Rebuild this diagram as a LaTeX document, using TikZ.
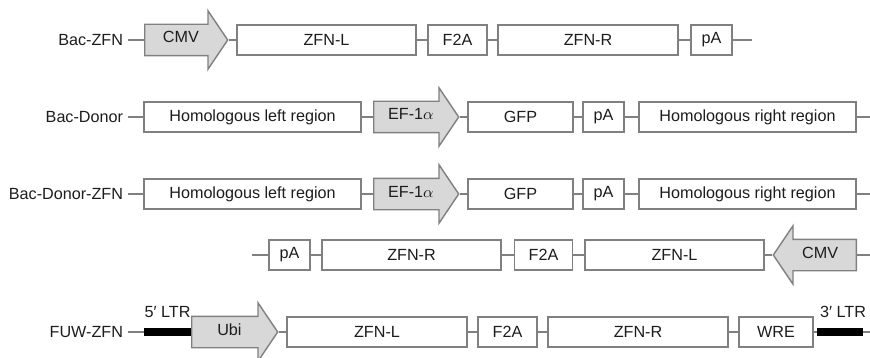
\documentclass[tikz,border=0pt]{standalone}
\usepackage{fontspec}
\setmainfont{Liberation Sans}
\usetikzlibrary{shapes.arrows}
\definecolor{linegrey}{RGB}{128,128,128}
\definecolor{promfill}{RGB}{216,216,216}
\definecolor{txtgrey}{RGB}{30,28,28}

\begin{document}
\begin{tikzpicture}[every node/.style={font=\fontsize{9.2}{11}\selectfont, text=txtgrey},
        partbox/.style={draw=linegrey, line width=0.8pt, fill=white, rectangle, minimum height=0.6cm, inner sep=0pt},
        prom/.style={draw=linegrey, line width=0.8pt, fill=promfill, single arrow, single arrow head extend=0.27cm,
            single arrow tip angle=112, text height=1.7mm, text depth=0.5mm, inner ysep=1.9mm, inner xsep=1mm,
            minimum width=0pt, anchor=tail},
        ltr/.style={fill=black, rectangle, minimum height=0.16cm, inner sep=0pt},
        vecname/.style={anchor=east, inner xsep=0pt, outer xsep=1mm},
        wire/.style={draw=linegrey, line width=0.75pt}]
                \useasboundingbox (0, 0) rectangle (17.4, -7.16);
                \clip (0, 0) rectangle (17.4, -7.16);

                % Bac-ZFN
                \node[vecname] at (2.56, -0.8) (bz) {Bac-ZFN};
                \node[prom, minimum height=1.66cm] at (2.88, -0.8) (cmv1) {CMV};
                \node[partbox, minimum width=3.58cm] at (6.53, -0.8) (zl1) {ZFN-L};
                \node[partbox, minimum width=1.18cm] at (9.15, -0.8) (fa1) {F2A};
                \node[partbox, minimum width=3.6cm] at (11.76, -0.8) (zr1) {ZFN-R};
                \node[partbox, minimum width=0.82cm] at (14.23, -0.8) (pa1) {pA};
                \coordinate (e1) at (15.04, -0.8);

                \draw[wire] (bz) -- (cmv1.tail);
                \draw[wire] (cmv1.tip) -- (zl1);
                \draw[wire] (zl1) -- (fa1);
                \draw[wire] (fa1) -- (zr1);
                \draw[wire] (zr1) -- (pa1);
                \draw[wire] (pa1) -- (e1);

                % Bac-Donor
                \node[vecname] at (2.56, -2.34) (bd) {Bac-Donor};
                \node[partbox, minimum width=4.34cm] at (5.05, -2.34) (hl2) {Homologous left region};
                \node[prom, minimum height=1.7cm] at (7.46, -2.34) (ef2) {EF-1$\alpha$};
                \node[partbox, minimum width=2.1cm] at (10.41, -2.34) (gfp2) {GFP};
                \node[partbox, minimum width=0.82cm] at (12.07, -2.34) (pa2) {pA};
                \node[partbox, minimum width=4.34cm] at (14.95, -2.34) (hr2) {Homologous right region};
                \coordinate (e2) at (17.4, -2.34);

                \draw[wire] (bd) -- (hl2);
                \draw[wire] (hl2) -- (ef2.tail);
                \draw[wire] (ef2.tip) -- (gfp2);
                \draw[wire] (gfp2) -- (pa2);
                \draw[wire] (pa2) -- (hr2);
                \draw[wire] (hr2) -- (e2);

                % Bac-Donor-ZFN
                \node[vecname] at (2.56, -3.88) (bdz) {Bac-Donor-ZFN};
                \node[partbox, minimum width=4.34cm] at (5.05, -3.88) (hl3) {Homologous left region};
                \node[prom, minimum height=1.7cm] at (7.46, -3.88) (ef3) {EF-1$\alpha$};
                \node[partbox, minimum width=2.1cm] at (10.41, -3.88) (gfp3) {GFP};
                \node[partbox, minimum width=0.82cm] at (12.07, -3.88) (pa3) {pA};
                \node[partbox, minimum width=4.34cm] at (14.95, -3.88) (hr3) {Homologous right region};
                \coordinate (e3) at (17.4, -3.88);

                \draw[wire] (bdz) -- (hl3);
                \draw[wire] (hl3) -- (ef3.tail);
                \draw[wire] (ef3.tip) -- (gfp3);
                \draw[wire] (gfp3) -- (pa3);
                \draw[wire] (pa3) -- (hr3);
                \draw[wire] (hr3) -- (e3);

                % reverse ZFN cassette
                \coordinate (s4) at (5.04, -5.1);
                \node[partbox, minimum width=0.82cm] at (5.79, -5.1) (pa4) {pA};
                \node[partbox, minimum width=3.58cm] at (8.23, -5.1) (zr4) {ZFN-R};
                \node[partbox, minimum width=1.16cm] at (10.87, -5.1) (fa4) {F2A};
                \node[partbox, minimum width=3.58cm] at (13.49, -5.1) (zl4) {ZFN-L};
                \node[prom, minimum height=1.66cm, shape border rotate=180] at (17.14, -5.1) (cmv4) {CMV};
                \coordinate (e4) at (17.4, -5.1);

                \draw[wire] (s4) -- (pa4);
                \draw[wire] (pa4) -- (zr4);
                \draw[wire] (zr4) -- (fa4);
                \draw[wire] (fa4) -- (zl4);
                \draw[wire] (zl4) -- (cmv4.tip);
                \draw[wire] (cmv4.tail) -- (e4);

                % FUW-ZFN
                \node[vecname] at (2.56, -6.64) (fz) {FUW-ZFN};
                \node[ltr, minimum width=0.94cm] at (3.35, -6.64) (ltr5) {};
                \node at (3.35, -6.24) (ltr5t) {5′ LTR};
                \node[prom, minimum height=1.72cm] at (3.82, -6.64) (ubi5) {Ubi};
                \node[partbox, minimum width=3.6cm] at (7.54, -6.64) (zl5) {ZFN-L};
                \node[partbox, minimum width=1.18cm] at (10.15, -6.64) (fa5) {F2A};
                \node[partbox, minimum width=3.6cm] at (12.76, -6.64) (zr5) {ZFN-R};
                \node[partbox, minimum width=1.48cm] at (15.52, -6.64) (wre5) {WRE};
                \node[ltr, minimum width=0.92cm] at (16.8, -6.64) (ltr3) {};
                \node at (16.86, -6.24) (ltr3t) {3′ LTR};
                \coordinate (e5) at (17.4, -6.64);

                \draw[wire] (fz) -- (ltr5);
                \draw[wire] (ltr5) -- (ubi5.tail);
                \draw[wire] (ubi5.tip) -- (zl5);
                \draw[wire] (zl5) -- (fa5);
                \draw[wire] (fa5) -- (zr5);
                \draw[wire] (zr5) -- (wre5);
                \draw[wire] (wre5) -- (ltr3);
                \draw[wire] (ltr3) -- (e5);
\end{tikzpicture}
\end{document}
